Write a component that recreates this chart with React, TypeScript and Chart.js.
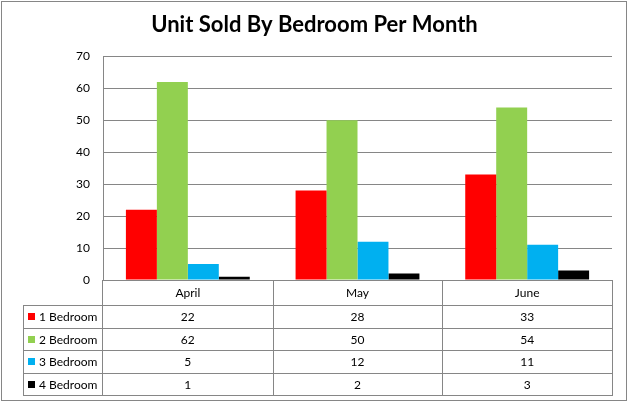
import { useEffect, useRef } from 'react';
import Chart from 'chart.js/auto';

const months = ['April', 'May', 'June'];
const seriesNames = ['1 Bedroom', '2 Bedroom', '3 Bedroom', '4 Bedroom'];
const oneBedroom = [22, 28, 33];
const twoBedroom = [62, 50, 54];
const threeBedroom = [5, 12, 11];
const fourBedroom = [1, 2, 3];
const seriesColors = ['#FF0000', '#92D050', '#00B0F0', '#000000'];

const FONT = 'Lato, "Open Sans", sans-serif';
const LINE = '#868686';

// draws the data table under the plot, like Excel's "show data table"
const dataTablePlugin = {
  id: 'dataTable',
  afterDraw(chart: any) {
    const { ctx, chartArea } = chart;
    const left = Math.round(chartArea.left);
    const right = Math.round(chartArea.right);
    const top = Math.round(chartArea.bottom);
    const headerH = 25;
    const rowH = 22.5;
    const legendLeft = 23;
    const colW = (right - left) / months.length;
    const allSeries = [oneBedroom, twoBedroom, threeBedroom, fourBedroom];
    const bottom = top + headerH + rowH * allSeries.length;
    const px = (v: number) => Math.round(v) + 0.5;

    ctx.save();
    ctx.strokeStyle = LINE;
    ctx.lineWidth = 1;
    ctx.beginPath();
    // header top
    ctx.moveTo(left, px(top));
    ctx.lineTo(right, px(top));
    // row lines
    for (let r = 0; r <= allSeries.length; r++) {
      const y = px(top + headerH + r * rowH);
      ctx.moveTo(legendLeft, y);
      ctx.lineTo(right + 1, y);
    }
    // column lines
    for (let c = 0; c <= months.length; c++) {
      const x = px(left + c * colW) - (c === 0 ? 1 : 0);
      ctx.moveTo(x, top);
      ctx.lineTo(x, px(bottom));
    }
    ctx.moveTo(px(legendLeft), px(top + headerH));
    ctx.lineTo(px(legendLeft), px(bottom));
    ctx.stroke();

    ctx.font = `12px ${FONT}`;
    ctx.fillStyle = '#000';
    ctx.textBaseline = 'middle';
    ctx.textAlign = 'center';
    months.forEach((m, c) => {
      ctx.fillText(m, left + (c + 0.5) * colW, top + headerH / 2 + 1);
    });
    allSeries.forEach((values, r) => {
      const cy = top + headerH + (r + 0.5) * rowH + 1;
      ctx.fillStyle = seriesColors[r];
      ctx.fillRect(legendLeft + 5, Math.round(cy - 4), 7, 7);
      ctx.fillStyle = '#000';
      ctx.textAlign = 'left';
      ctx.fillText(seriesNames[r], legendLeft + 16, cy);
      ctx.textAlign = 'center';
      values.forEach((v, c) => {
        ctx.fillText(String(v), left + (c + 0.5) * colW, cy);
      });
    });

    // outer chart border
    ctx.strokeStyle = LINE;
    ctx.strokeRect(1.5, 1.5, 625, 399);
    ctx.restore();
  },
};

const whiteBackground = {
  id: 'whiteBg',
  beforeDraw(chart: any) {
    const { ctx, width, height } = chart;
    ctx.save();
    ctx.fillStyle = '#fff';
    ctx.fillRect(0, 0, width, height);
    ctx.restore();
  },
};

export default function App() {
  const canvasRef = useRef<HTMLCanvasElement>(null);

  useEffect(() => {
    if (!canvasRef.current) return;
    const allSeries = [oneBedroom, twoBedroom, threeBedroom, fourBedroom];
    const chart = new Chart(canvasRef.current, {
      type: 'bar',
      data: {
        labels: months,
        datasets: allSeries.map((data, i) => ({
          label: seriesNames[i],
          data,
          backgroundColor: seriesColors[i],
          borderWidth: 0,
          barPercentage: 1,
          categoryPercentage: 0.73,
        })),
      },
      options: {
        responsive: false,
        animation: false,
        layout: { padding: { left: 0, right: 0, top: 0, bottom: 123 } },
        plugins: {
          legend: { display: false },
          tooltip: { enabled: false },
          title: {
            display: true,
            text: 'Unit Sold By Bedroom Per Month',
            color: '#000',
            font: { family: FONT, size: 22, weight: 'bold' },
            padding: { top: 12, bottom: 18 },
          },
        },
        scales: {
          x: { display: false },
          y: {
            min: 0,
            max: 70,
            ticks: {
              stepSize: 10,
              color: '#000',
              font: { family: FONT, size: 12 },
              padding: 13,
            },
            grid: { color: LINE, drawTicks: false },
            border: { display: true, color: LINE },
            afterFit: (scale: any) => {
              scale.width = 103;
            },
          },
          // empty right-hand axis keeps the right margin without shifting the title
          yRight: {
            position: 'right',
            display: true,
            ticks: { display: false },
            grid: { display: false, drawTicks: false },
            border: { display: false },
            afterFit: (scale: any) => {
              scale.width = 17;
            },
          },
        },
      },
      plugins: [whiteBackground, dataTablePlugin],
    });
    return () => chart.destroy();
  }, []);

  return (
    <div style={{ position: 'absolute', left: 0, top: 0, width: 629, height: 403 }}>
      <canvas ref={canvasRef} width={629} height={403} />
    </div>
  );
}
